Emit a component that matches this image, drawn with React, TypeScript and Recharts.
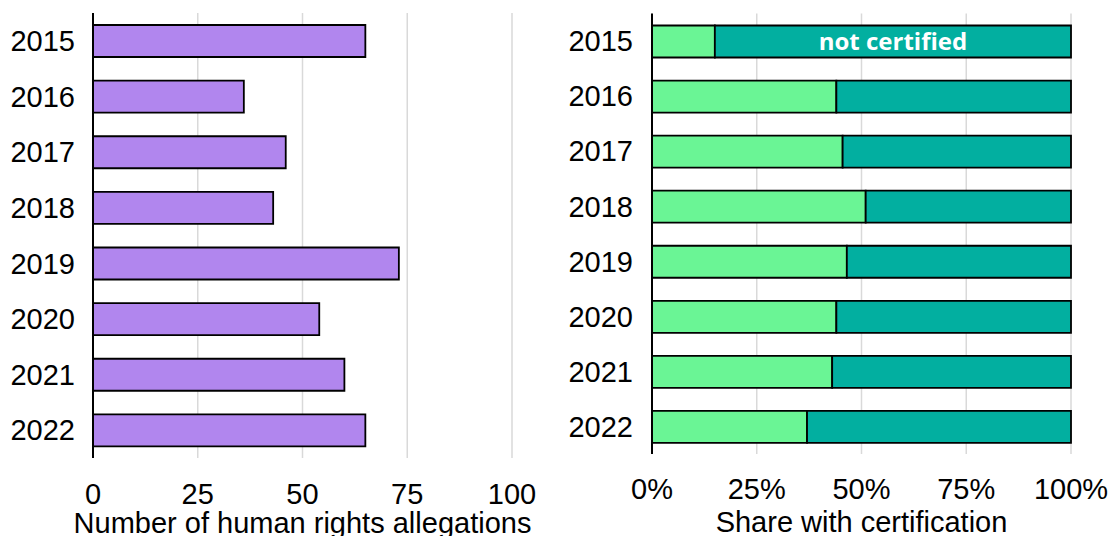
import React from "react";
import { BarChart, Bar, XAxis, YAxis, CartesianGrid, LabelList } from "recharts";

const years = ["2015", "2016", "2017", "2018", "2019", "2020", "2021", "2022"];
const allegations = [65, 36, 46, 43, 73, 54, 60, 65];
const certified = [15, 44, 45.5, 51, 46.5, 44, 43, 37];
const notCertified = [85, 56, 54.5, 49, 53.5, 56, 57, 63];
const segmentLabels = ["not certified", null, null, null, null, null, null, null];
const leftTicks = [0, 25, 50, 75, 100];
const rightTicks = [0, 25, 50, 75, 100];

const leftData = years.map((y, i) => ({ year: y, allegations: allegations[i] }));
const rightData = years.map((y, i) => ({
  year: y,
  certified: certified[i],
  notCertified: notCertified[i],
  label: segmentLabels[i],
}));

const FONT = "'Liberation Sans', Arial, sans-serif";
const tickStyle = { fontSize: 29, fill: "#000", fontFamily: FONT };

export default function App() {
  return (
    <div style={{ position: "absolute", left: 0, top: 0, width: 1109, height: 536, background: "#fff" }}>
      <div style={{ position: "absolute", left: 0, top: 0 }}>
        <BarChart
          width={560}
          height={536}
          data={leftData}
          layout="vertical"
          margin={{ top: 13, right: 48, bottom: 0, left: 0 }}
          barSize={32}
        >
          <CartesianGrid horizontal={false} vertical={true} stroke="#D9D9D9" strokeWidth={1.5} />
          <XAxis
            type="number"
            domain={[0, 100]}
            ticks={leftTicks}
            axisLine={false}
            tickLine={false}
            tickSize={6}
            tickMargin={19}
            height={78}
            tick={tickStyle}
            interval={0}
            label={{
              value: "Number of human rights allegations",
              position: "insideBottom",
              offset: 3,
              style: { fontSize: 29, fill: "#000", fontFamily: FONT },
            }}
          />
          <YAxis
            type="category"
            dataKey="year"
            width={93}
            axisLine={{ stroke: "#000", strokeWidth: 2 }}
            tickLine={false}
            tickSize={6}
            tickMargin={12}
            tick={tickStyle}
            interval={0}
          />
          <Bar dataKey="allegations" fill="#B186EE" stroke="#000" strokeWidth={1.8} isAnimationActive={false} />
        </BarChart>
      </div>
      <div style={{ position: "absolute", left: 560, top: 0 }}>
        <BarChart
          width={549}
          height={536}
          data={rightData}
          layout="vertical"
          margin={{ top: 13.5, right: 38, bottom: 0, left: 0 }}
          barSize={32}
        >
          <CartesianGrid horizontal={false} vertical={true} stroke="#D9D9D9" strokeWidth={1.5} />
          <XAxis
            type="number"
            domain={[0, 100]}
            ticks={rightTicks}
            tickFormatter={(v) => `${v}%`}
            axisLine={false}
            tickLine={false}
            tickSize={6}
            tickMargin={18}
            height={82}
            tick={tickStyle}
            interval={0}
            label={{
              value: "Share with certification",
              position: "insideBottom",
              offset: 4,
              style: { fontSize: 29, fill: "#000", fontFamily: FONT },
            }}
          />
          <YAxis
            type="category"
            dataKey="year"
            width={92}
            axisLine={{ stroke: "#000", strokeWidth: 2 }}
            tickLine={false}
            tickSize={6}
            tickMargin={13}
            tick={tickStyle}
            interval={0}
          />
          <Bar dataKey="certified" stackId="a" fill="#6AF595" stroke="#000" strokeWidth={1.8} isAnimationActive={false} />
          <Bar dataKey="notCertified" stackId="a" fill="#02AFA0" stroke="#000" strokeWidth={1.8} isAnimationActive={false}>
            <LabelList
              dataKey="label"
              position="center"
              style={{ fill: "#fff", fontSize: 24, fontWeight: 700, fontFamily: "'Open Sans', sans-serif" }}
            />
          </Bar>
        </BarChart>
      </div>
    </div>
  );
}
